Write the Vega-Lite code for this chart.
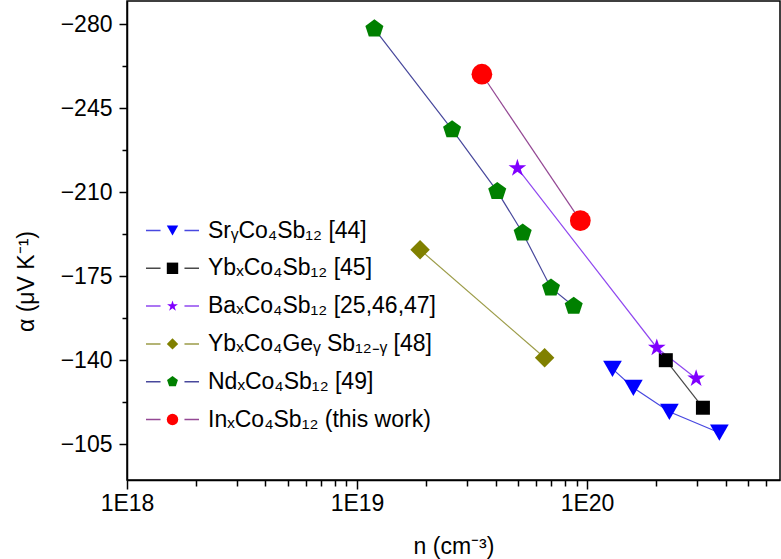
{
  "$schema": "https://vega.github.io/schema/vega-lite/v6.json",
  "width": 653,
  "height": 479,
  "autosize": {"type": "none"},
  "padding": {"left": 127, "top": 1, "right": 1, "bottom": 79},
  "background": "white",
  "config": {
    "font": "Liberation Sans",
    "view": {"stroke": "black", "strokeWidth": 1.5},
    "axis": {
      "grid": false,
      "domainColor": "black",
      "domainWidth": 1.5,
      "tickColor": "black",
      "tickWidth": 1.5,
      "labelFont": "Liberation Sans",
      "labelFontSize": 23,
      "labelColor": "black",
      "titleFont": "Liberation Sans",
      "titleFontSize": 23,
      "titleFontWeight": "normal",
      "titleColor": "black"
    },
    "legend": {
      "labelFont": "Liberation Sans",
      "labelFontSize": 23,
      "labelColor": "black",
      "labelLimit": 0,
      "padding": 0,
      "orient": "none",
      "legendX": 34,
      "legendY": 218,
      "symbolSize": 130,
      "rowPadding": 13.8
    }
  },
  "data": {
    "values": [
      {"series": "SrᵧCo₄Sb₁₂ [44]", "n": 1.29e20, "alpha": -136.4},
      {"series": "SrᵧCo₄Sb₁₂ [44]", "n": 1.59e20, "alpha": -128.5},
      {"series": "SrᵧCo₄Sb₁₂ [44]", "n": 2.28e20, "alpha": -118.5},
      {"series": "SrᵧCo₄Sb₁₂ [44]", "n": 3.76e20, "alpha": -109.8},
      {"series": "YbₓCo₄Sb₁₂ [45]", "n": 2.2e20, "alpha": -140},
      {"series": "YbₓCo₄Sb₁₂ [45]", "n": 3.19e20, "alpha": -120.2},
      {"series": "BaₓCo₄Sb₁₂ [25,46,47]", "n": 4.98e19, "alpha": -220},
      {"series": "BaₓCo₄Sb₁₂ [25,46,47]", "n": 2.01e20, "alpha": -145.2},
      {"series": "BaₓCo₄Sb₁₂ [25,46,47]", "n": 2.98e20, "alpha": -132.4},
      {"series": "YbₓCo₄Geᵧ Sb₁₂₋ᵧ [48]", "n": 1.88e19, "alpha": -186},
      {"series": "YbₓCo₄Geᵧ Sb₁₂₋ᵧ [48]", "n": 6.54e19, "alpha": -141},
      {"series": "NdₓCo₄Sb₁₂ [49]", "n": 1.19e19, "alpha": -278},
      {"series": "NdₓCo₄Sb₁₂ [49]", "n": 2.59e19, "alpha": -236},
      {"series": "NdₓCo₄Sb₁₂ [49]", "n": 4.07e19, "alpha": -210.3},
      {"series": "NdₓCo₄Sb₁₂ [49]", "n": 5.25e19, "alpha": -193},
      {"series": "NdₓCo₄Sb₁₂ [49]", "n": 6.97e19, "alpha": -170.1},
      {"series": "NdₓCo₄Sb₁₂ [49]", "n": 8.75e19, "alpha": -162.5},
      {"series": "InₓCo₄Sb₁₂ (this work)", "n": 3.49e19, "alpha": -259.1},
      {"series": "InₓCo₄Sb₁₂ (this work)", "n": 9.35e19, "alpha": -198.1}
    ]
  },
  "encoding": {
    "x": {"field": "n", "type": "quantitative", "scale": {"type": "log", "domain": [1e18, 6.9e20], "nice": false}, "axis": null},
    "y": {"field": "alpha", "type": "quantitative", "scale": {"domain": [-289.6, -90.1], "reverse": true, "nice": false, "zero": false}, "axis": null},
    "color": {
      "field": "series",
      "type": "nominal",
      "scale": {
        "domain": ["SrᵧCo₄Sb₁₂ [44]", "YbₓCo₄Sb₁₂ [45]", "BaₓCo₄Sb₁₂ [25,46,47]", "YbₓCo₄Geᵧ Sb₁₂₋ᵧ [48]", "NdₓCo₄Sb₁₂ [49]", "InₓCo₄Sb₁₂ (this work)"],
        "range": ["#0000FF", "#000000", "#8000FF", "#808000", "#008000", "#FF0000"]
      },
      "legend": {"title": null, "symbolStrokeWidth": 0, "labelOffset": 24}
    },
    "shape": {
      "field": "series",
      "type": "nominal",
      "scale": {
        "domain": ["SrᵧCo₄Sb₁₂ [44]", "YbₓCo₄Sb₁₂ [45]", "BaₓCo₄Sb₁₂ [25,46,47]", "YbₓCo₄Geᵧ Sb₁₂₋ᵧ [48]", "NdₓCo₄Sb₁₂ [49]", "InₓCo₄Sb₁₂ (this work)"],
        "range": ["triangle-down", "square", "M0,-1L0.2245,-0.309L0.951,-0.309L0.363,0.118L0.588,0.809L0,0.382L-0.588,0.809L-0.363,0.118L-0.951,-0.309L-0.2245,-0.309Z", "diamond", "M0,-1L0.951,-0.309L0.588,0.809L-0.588,0.809L-0.951,-0.309Z", "circle"]
      },
      "legend": {"title": null, "symbolStrokeWidth": 0, "labelOffset": 24}
    }
  },
  "resolve": {"axis": {"x": "independent", "y": "independent"}},
  "layer": [
    {
      "mark": {"type": "line", "strokeWidth": 1.2},
      "encoding": {
        "x": {
          "field": "n",
          "type": "quantitative",
          "axis": {
            "orient": "bottom",
            "values": [1e18, 1e19, 1e20],
            "labelExpr": "'1E' + round(log(datum.value) / LN10)",
            "tickSize": 9,
            "labelPadding": 3,
            "labelFlush": false,
            "title": "n (cm⁻³)",
            "titlePadding": 20
          }
        },
        "y": {
          "field": "alpha",
          "type": "quantitative",
          "axis": {
            "orient": "left",
            "values": [-280, -245, -210, -175, -140, -105],
            "format": "d",
            "tickSize": 8,
            "labelPadding": 7,
            "title": "α (μV K⁻¹)",
            "titlePadding": 22,
            "titleY": 280
          }
        },
        "color": null,
        "shape": null,
        "stroke": {
          "field": "series",
          "type": "nominal",
          "sort": null,
          "scale": {"range": ["#4848E0", "#484848", "#9048F0", "#9C9C48", "#48489C", "#944894"]},
          "legend": {
            "title": null,
            "symbolType": "M-4.65,0H-2.1M2.1,0H4.65",
            "symbolStrokeWidth": 1.5,
            "labelExpr": "' '"
          }
        }
      }
    },
    {
      "transform": [{"filter": "datum.series === 'SrᵧCo₄Sb₁₂ [44]'"}],
      "mark": {"type": "point", "filled": true, "opacity": 1, "strokeWidth": 0, "size": 350},
      "encoding": {
        "x": {
          "field": "n",
          "type": "quantitative",
          "axis": {
            "orient": "bottom",
            "values": [2e18, 3e18, 4e18, 5e18, 6e18, 7e18, 8e18, 9e18, 2e19, 3e19, 4e19, 5e19, 6e19, 7e19, 8e19, 9e19, 2e20, 3e20, 4e20, 5e20, 6e20],
            "labels": false,
            "domain": false,
            "tickSize": 6,
            "title": null
          }
        },
        "y": {
          "field": "alpha",
          "type": "quantitative",
          "axis": {
            "orient": "left",
            "values": [-262.5, -227.5, -192.5, -157.5, -122.5],
            "labels": false,
            "domain": false,
            "tickSize": 5,
            "title": null
          }
        }
      }
    },
    {
      "transform": [{"filter": "datum.series === 'YbₓCo₄Sb₁₂ [45]'"}],
      "mark": {"type": "point", "filled": true, "opacity": 1, "strokeWidth": 0, "size": 196}
    },
    {
      "transform": [{"filter": "datum.series === 'BaₓCo₄Sb₁₂ [25,46,47]'"}],
      "mark": {"type": "point", "filled": true, "opacity": 1, "strokeWidth": 0, "size": 346}
    },
    {
      "transform": [{"filter": "datum.series === 'YbₓCo₄Geᵧ Sb₁₂₋ᵧ [48]'"}],
      "mark": {"type": "point", "filled": true, "opacity": 1, "strokeWidth": 0, "size": 380}
    },
    {
      "transform": [{"filter": "datum.series === 'NdₓCo₄Sb₁₂ [49]'"}],
      "mark": {"type": "point", "filled": true, "opacity": 1, "strokeWidth": 0, "size": 360}
    },
    {
      "transform": [{"filter": "datum.series === 'InₓCo₄Sb₁₂ (this work)'"}],
      "mark": {"type": "point", "filled": true, "opacity": 1, "strokeWidth": 0, "size": 430}
    }
  ]
}
